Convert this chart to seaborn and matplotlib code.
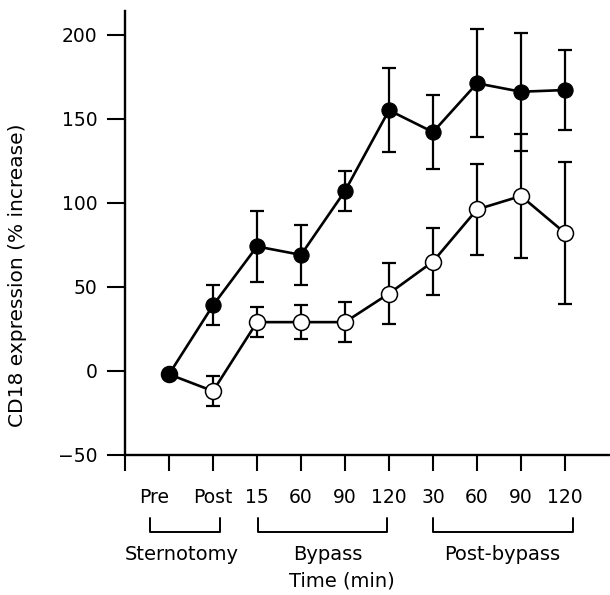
import numpy as np
import pandas as pd
import matplotlib
matplotlib.use("Agg")
import matplotlib.pyplot as plt
import matplotlib.transforms as mtransforms
import seaborn as sns

tick_labels = ["", "Pre", "Post", "15", "60", "90", "120", "30", "60", "90", "120"]
positions = list(range(10))

filled_mean = [-2, 39, 74, 69, 107, 155, 142, 171, 166, 167]
filled_err = [0, 12, 21, 18, 12, 25, 22, 32, 35, 24]

open_mean = [-2, -12, 29, 29, 29, 46, 65, 96, 104, 82]
open_err = [0, 9, 9, 10, 12, 18, 20, 27, 37, 42]

groups = ["Sternotomy", "Bypass", "Post-bypass"]
group_start = [-0.43, 2.02, 6.0]
group_end = [1.16, 4.95, 9.18]
group_label_x = [0.28, 3.6, 7.57]

df_filled = pd.DataFrame({"x": positions, "y": filled_mean})
df_open = pd.DataFrame({"x": positions, "y": open_mean})

sns.set_style("ticks")
plt.rcParams["font.family"] = ["DejaVu Sans"]
for key in ["text.color", "axes.labelcolor", "xtick.color", "ytick.color", "axes.edgecolor"]:
    plt.rcParams[key] = "black"

fig = plt.figure(figsize=(6.1, 5.95), dpi=100)
ax = fig.add_axes([125 / 610, 1 - 455 / 595, 484 / 610, 444 / 595])

ax.errorbar(positions, open_mean, yerr=open_err, fmt="none", ecolor="black",
            elinewidth=1.6, capsize=5, capthick=1.6, zorder=2)
sns.lineplot(data=df_open, x="x", y="y", ax=ax, color="black", linewidth=1.9,
             marker="o", markersize=11.5, markerfacecolor="white",
             markeredgecolor="black", markeredgewidth=1.1, zorder=3)

ax.errorbar(positions, filled_mean, yerr=filled_err, fmt="none", ecolor="black",
            elinewidth=1.6, capsize=5, capthick=1.6, zorder=4)
sns.lineplot(data=df_filled, x="x", y="y", ax=ax, color="black", linewidth=1.9,
             marker="o", markersize=11, markerfacecolor="black",
             markeredgecolor="black", zorder=5)

ax.set_xlim(-1, 10)
ax.set_ylim(-50, 214)
ax.set_xticks(range(-1, 10))
ax.set_xticklabels(tick_labels)
ax.get_xticklabels()[1].set_ha("right")
ax.set_yticks([-50, 0, 50, 100, 150, 200])
ax.set_yticklabels(["\u221250", "0", "50", "100", "150", "200"])

ax.set_xlabel("")
ax.set_ylabel("CD18 expression (% increase)", fontsize=14.5)
ax.yaxis.set_label_coords(-0.203, 0.405)

for side in ["top", "right"]:
    ax.spines[side].set_visible(False)
for side in ["left", "bottom"]:
    ax.spines[side].set_linewidth(1.7)

ax.tick_params(axis="x", direction="out", length=11.5, width=1.5, pad=12, labelsize=13.5)
ax.tick_params(axis="y", direction="out", length=13, width=1.5, pad=7, labelsize=13.5)

trans = mtransforms.blended_transform_factory(ax.transData, fig.transFigure)
y_line = 1 - 532 / 595
y_top = 1 - 518 / 595
for start, end in zip(group_start, group_end):
    ax.plot([start, start, end, end], [y_top, y_line, y_line, y_top],
            color="black", linewidth=1.4, transform=trans, clip_on=False)

for name, xc in zip(groups, group_label_x):
    ax.text(xc, 1 - 554 / 595, name, transform=trans, ha="center", va="center",
            fontsize=14)

ax.text(3.92, 1 - 581 / 595, "Time (min)", transform=trans, ha="center",
        va="center", fontsize=14)

fig.savefig("out.png", dpi=100)
